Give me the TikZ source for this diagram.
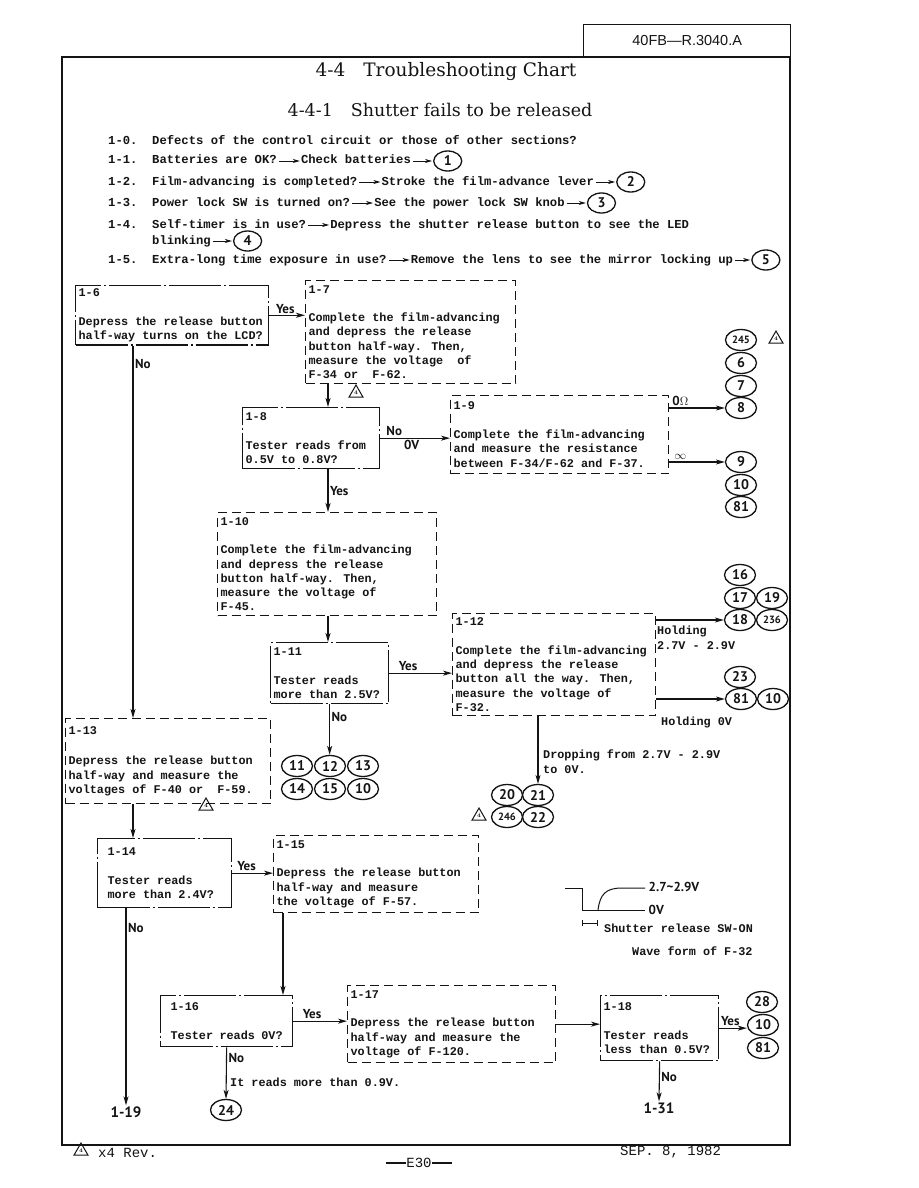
\documentclass[tikz,border=0pt]{standalone}
\usepackage{fontspec}
\usepackage{tikz}
\usetikzlibrary{arrows.meta,positioning,shapes.geometric}
\definecolor{Ink}{HTML}{141414}
\newfontfamily\typew{Liberation Mono}
\newfontfamily\hand{PT Sans}
\newfontfamily\hdrfont{Liberation Sans}
\newfontfamily\headfont{DejaVu Serif}
\newcommand{\boxfont}{\typew\bfseries\fontsize{11.8}{14.3}\selectfont}
\newcommand{\listfont}{\typew\bfseries\fontsize{12.2}{14}\selectfont}

\begin{document}
\begin{tikzpicture}[x=1pt,y=-1pt,every node/.style={text=Ink},
  tbox/.style={anchor=north west,align=flush left,inner xsep=3pt,inner ysep=3pt,
               font=\boxfont,draw=Ink,line width=1.3pt},
  solidbox/.style={tbox,dash pattern=on 52pt off 3pt on 2pt off 3pt},
  dashbox/.style={tbox,dash pattern=on 9pt off 5pt},
  conn/.style={draw=Ink,line width=1.1pt,-{Stealth[length=9pt,width=5pt,inset=2.5pt]}},
  listarr/.style={draw=Ink,line width=0.9pt,-{Stealth[length=7pt,width=4pt,inset=2pt]},
                  shorten <=2pt,shorten >=1pt},
  yn/.style={font=\hand\bfseries\fontsize{13}{13}\selectfont,inner sep=1.5pt},
  goto/.style={font=\hand\bfseries\fontsize{15}{15}\selectfont,inner sep=1pt},
  ref/.style={ellipse,draw=Ink,line width=1.3pt,minimum width=31pt,minimum height=21pt,
              inner sep=0pt,font=\hand\bfseries\fontsize{14}{14}\selectfont},
  refs/.style={ref,font=\hand\bfseries\fontsize{10.5}{10.5}\selectfont},
  lref/.style={ref,minimum width=28pt,minimum height=20pt},
  revmark/.style={regular polygon,regular polygon sides=3,draw=Ink,line width=1pt,
                  inner sep=0pt,minimum size=16pt,font=\bfseries\fontsize{5.5}{5.5}\selectfont},
  listtxt/.style={anchor=west,inner sep=0pt,text height=8pt,text depth=2pt,font=\listfont},
  txt/.style={anchor=west,align=flush left,inner sep=0pt,font=\boxfont},
  foot/.style={anchor=west,inner sep=0pt,font=\typew\fontsize{14}{14}\selectfont}]

  \path[fill=white] (0,0) rectangle (918,1188);
  \useasboundingbox (0,0) rectangle (918,1188);

  % page frame and heading
  \draw[draw=Ink,line width=1.6pt] (62,57) rectangle (790,1145);
  \node[draw=Ink,line width=1.4pt,minimum width=207pt,minimum height=32pt,anchor=south west,
        font=\hdrfont\fontsize{14.5}{14.5}\selectfont] (hdr) at (583,57) {40FB—R.3040.A};
  \node[font=\headfont\fontsize{18.5}{22}\selectfont] (title) at (446,72)
    {4-4\hspace{18pt}Troubleshooting Chart};
  \node[font=\headfont\fontsize{17.5}{21}\selectfont] (subtitle) at (440,110)
    {4-4-1\hspace{18pt}Shutter fails to be released};

  % check list 1-0 ... 1-5
  \node[listtxt] (n10) at (108,141) {1-0.};
  \node[listtxt] (t10) at (152,141) {Defects of the control circuit or those of other sections?};
  \node[listtxt] (n11) at (108,161) {1-1.};
  \node[listtxt] (t11) at (152,161) {Batteries are OK?};
  \node[listtxt,right=24pt of t11] (a11) {Check batteries};
  \node[lref,right=22pt of a11] (c1) {1};
  \node[listtxt] (n12) at (108,182) {1-2.};
  \node[listtxt] (t12) at (152,182) {Film-advancing is completed?};
  \node[listtxt,right=24pt of t12] (a12) {Stroke the film-advance lever};
  \node[lref,right=22pt of a12] (c2) {2};
  \node[listtxt] (n13) at (108,203) {1-3.};
  \node[listtxt] (t13) at (152,203) {Power lock SW is turned on?};
  \node[listtxt,right=24pt of t13] (a13) {See the power lock SW knob};
  \node[lref,right=22pt of a13] (c3) {3};
  \node[listtxt] (n14) at (108,225) {1-4.};
  \node[listtxt] (t14) at (152,225) {Self-timer is in use?};
  \node[listtxt,right=24pt of t14] (a14) {Depress the shutter release button to see the LED};
  \node[listtxt] (b14) at (152,241) {blinking};
  \node[lref,right=22pt of b14] (c4) {4};
  \node[listtxt] (n15) at (108,260) {1-5.};
  \node[listtxt] (t15) at (152,260) {Extra-long time exposure in use?};
  \node[listtxt,right=24pt of t15] (a15) {Remove the lens to see the mirror locking up};
  \node[lref,right=18pt of a15] (c5) {5};
  \draw[listarr] (t11) -- (a11);
  \draw[listarr] (a11) -- (c1);
  \draw[listarr] (t12) -- (a12);
  \draw[listarr] (a12) -- (c2);
  \draw[listarr] (t13) -- (a13);
  \draw[listarr] (a13) -- (c3);
  \draw[listarr] (t14) -- (a14);
  \draw[listarr] (b14) -- (c4);
  \draw[listarr] (t15) -- (a15);
  \draw[listarr] (a15) -- (c5);

  % chart boxes
  \node[solidbox,text width=187pt,minimum height=58pt] (b16) at (75,285)
    {1-6\\[14.3pt]Depress the release button\\half-way turns on the LCD?};
  \node[dashbox,text width=204pt,minimum height=103pt] (b17) at (305,280)
    {1-7\\[14.3pt]Complete the film-advancing\\and depress the release\\button half-way. Then,\\measure the voltage~ of\\F-34 or~ F-62.};
  \node[solidbox,text width=131pt,minimum height=61pt] (b18) at (242,407)
    {1-8\\[14.3pt]Tester reads from\\0.5V to 0.8V?};
  \node[dashbox,text width=212pt,minimum height=78pt] (b19) at (450,395)
    {1-9\\[14.3pt]Complete the film-advancing\\and measure the resistance\\between F-34/F-62 and F-37.};
  \node[dashbox,text width=213pt,minimum height=103pt] (b110) at (217,512)
    {1-10\\[14.3pt]Complete the film-advancing\\and depress the release\\button half-way. Then,\\measure the voltage of\\F-45.};
  \node[solidbox,text width=112pt,minimum height=61pt] (b111) at (270,642)
    {1-11\\[14.3pt]Tester reads\\more than 2.5V?};
  \node[dashbox,text width=197pt,minimum height=102pt] (b112) at (452,613)
    {1-12\\[14.3pt]Complete the film-advancing\\and depress the release\\button all the way. Then,\\measure the voltage of\\F-32.};
  \node[dashbox,text width=199pt,minimum height=85pt] (b113) at (65,718)
    {1-13\\[16pt]Depress the release button\\half-way and measure the\\voltages of F-40 or~ F-59.};
  \node[solidbox,inner xsep=10pt,text width=114pt,minimum height=69pt] (b114) at (97,838)
    {1-14\\[14.3pt]Tester reads\\more than 2.4V?};
  \node[dashbox,text width=199pt,minimum height=77pt] (b115) at (273,835)
    {1-15\\[14.3pt]Depress the release button\\half-way and measure\\the voltage of F-57.};
  \node[solidbox,inner xsep=10pt,text width=112pt,minimum height=51pt] (b116) at (160,995)
    {1-16\\[14.3pt]Tester reads 0V?};
  \node[dashbox,text width=202pt,minimum height=77pt] (b117) at (347,985)
    {1-17\\[14.3pt]Depress the release button\\half-way and measure the\\voltage of F-120.};
  \node[solidbox,text width=112pt,minimum height=65pt] (b118) at (600,995)
    {1-18\\[14.3pt]Tester reads\\less than 0.5V?};
  \node[revmark] (w17) at (356,393) {4};
  \node[revmark] (w113) at (206,806) {4};

  % referenced parts
  \node[refs] (c245) at (741,340) {245};
  \node[revmark] (w245) at (776,339) {4};
  \node[ref] (c6) at (741,363) {6};
  \node[ref] (c7) at (741,386) {7};
  \node[ref] (c8) at (741,408) {8};
  \node[ref] (c9) at (741,462) {9};
  \node[ref] (c10a) at (741,485) {10};
  \node[ref] (c81a) at (741,507) {81};
  \node[ref] (c16) at (740,575) {16};
  \node[ref] (c17) at (740,598) {17};
  \node[ref] (c19) at (772,598) {19};
  \node[ref] (c18) at (740,620) {18};
  \node[refs] (c236) at (772,620) {236};
  \node[ref] (c23) at (740,677) {23};
  \node[ref] (c81b) at (741,699) {81};
  \node[ref] (c10b) at (773,699) {10};
  \node[ref] (c11) at (297,766) {11};
  \node[ref] (c12) at (330,766) {12};
  \node[ref] (c13) at (363,766) {13};
  \node[ref] (c14) at (297,789) {14};
  \node[ref] (c15) at (330,789) {15};
  \node[ref] (c10c) at (363,789) {10};
  \node[ref] (c20) at (507,795) {20};
  \node[ref] (c21) at (538,795) {21};
  \node[refs] (c246) at (507,817) {246};
  \node[ref] (c22) at (538,817) {22};
  \node[revmark] (w246) at (479,816) {4};
  \node[ref] (c24) at (226,1110) {24};
  \node[ref] (c28) at (762,1002) {28};
  \node[ref] (c10d) at (763,1025) {10};
  \node[ref] (c81c) at (763,1048) {81};
  \node[goto] (go119) at (126,1112) {1-19};
  \node[goto] (go131) at (659,1108) {1-31};

  % texts beside the lines
  \node[txt,anchor=north west] (hold1) at (657,626) {Holding\\2.7V - 2.9V};
  \node[txt] (hold0) at (661,722) {Holding 0V};
  \node[txt,anchor=north west] (drop) at (543,750) {Dropping from 2.7V - 2.9V\\to 0V.};
  \node[txt] (note16) at (230,1082) {It reads more than 0.9V.};

  % connectors
  \coordinate (colL) at (133,0);
  \coordinate (colM) at (328,0);
  \coordinate (col15) at (283,0);
  \draw[conn] (b16.east) -- (b16.east -| b17.west) node[yn,above,pos=0.45] {Yes};
  \draw[conn] (b16.south -| colL) -- (b113.north -| colL) node[yn,right,pos=0.05] {No};
  \draw[conn] (b17.south -| colM) -- (b18.north -| colM);
  \draw[conn] (b18.east) -- (b18.east -| b19.west) node[yn,above,pos=0.2] {No}
    node[yn,below,pos=0.45] {0V};
  \draw[conn] (c8.west -| b19.east) -- (c8.west) node[yn,above,pos=0.2] {0$\Omega$};
  \draw[conn] (c9.west -| b19.east) -- (c9.west) node[yn,above,pos=0.2] {$\infty$};
  \draw[conn] (b18.south -| colM) -- (b110.north -| colM) node[yn,right,midway] {Yes};
  \draw[conn] (b110.south -| colM) -- (b111.north -| colM);
  \draw[conn] (b111.east) -- (b111.east -| b112.west) node[yn,above,pos=0.3] {Yes};
  \draw[conn] (c18.west -| b112.east) -- (c18.west);
  \draw[conn] (c81b.west -| b112.east) -- (c81b.west);
  \draw[conn] (c21.north |- b112.south) -- (c21.north);
  \draw[conn] (b111.south) -- (b111.south |- c12.north) node[yn,right,pos=0.25] {No};
  \draw[conn] (b113.south -| colL) -- (b114.north -| colL);
  \draw[conn] (b114.east) -- (b114.east -| b115.west) node[yn,above,pos=0.35] {Yes};
  \draw[conn] (b114.south -| go119.north) -- (go119.north) node[yn,right,pos=0.1] {No};
  \draw[conn] (b115.south -| col15) -- (b116.north -| col15);
  \draw[conn] (b116.east) -- (b116.east -| b117.west) node[yn,above,pos=0.35] {Yes};
  \draw[conn] (b116.south) -- (c24.north) node[yn,right,pos=0.2] {No};
  \draw[conn] (b117.east) -- (b117.east -| b118.west);
  \draw[conn] (b118.east) -- (b118.east -| c10d.west) node[yn,above,pos=0.4] {Yes};
  \draw[conn] (b118.south) -- (go131.north) node[yn,right,pos=0.4] {No};

  % wave form of F-32
  \draw[draw=Ink,line width=1pt] (565,888) -- (582,888) -- (582,910) -- (645,910);
  \draw[draw=Ink,line width=1pt] (598,910) .. controls (600,894) and (606,888) .. (622,888) -- (645,888);
  \draw[draw=Ink,line width=0.8pt,{Bar[width=6pt]}-{Bar[width=6pt]}] (582,923) -- (598,923);
  \node[yn,anchor=west] (lvhi) at (647,887) {2.7\textasciitilde 2.9V};
  \node[yn,anchor=west] (lvlo) at (647,910) {0V};
  \node[txt] (swon) at (604,928) {Shutter release SW-ON};
  \node[txt] (wave) at (632,951) {Wave form of F-32};

  % foot line
  \node[revmark] (wfoot) at (81,1151) {4};
  \node[foot] (rev) at (98,1153) {x4 Rev.};
  \node[foot,anchor=center] (page) at (419,1163)
    {\rule[0.55ex]{20pt}{1.2pt}E30\rule[0.55ex]{20pt}{1.2pt}};
  \node[foot] (date) at (620,1152) {SEP. 8, 1982};
\end{tikzpicture}
\end{document}
